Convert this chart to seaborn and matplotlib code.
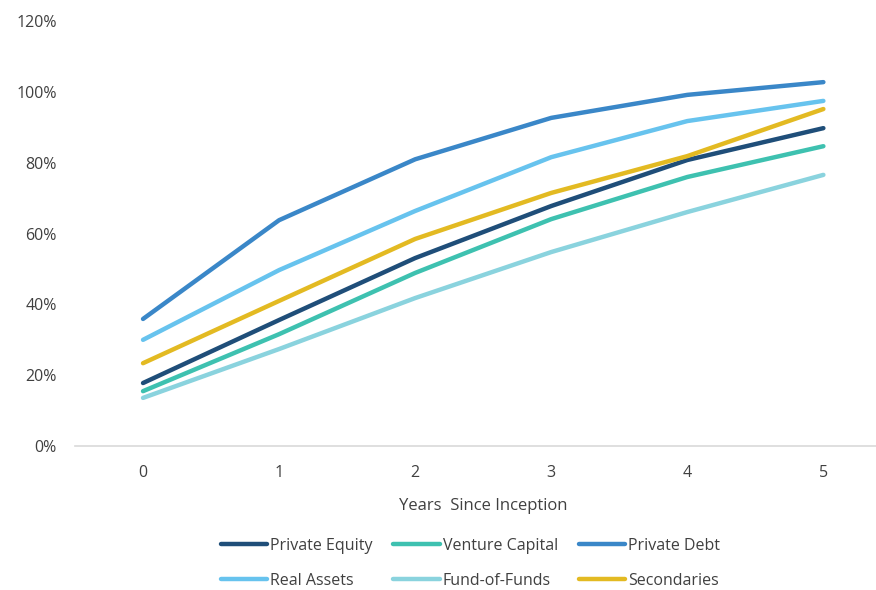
import pandas as pd
import seaborn as sns
import matplotlib.pyplot as plt
from matplotlib.ticker import PercentFormatter

# Data
years = [0, 1, 2, 3, 4, 5]
private_equity = [17.8, 35.6, 53.1, 67.8, 80.8, 89.8]
venture_capital = [15.5, 31.6, 48.9, 64.1, 76.0, 84.7]
private_debt = [35.9, 63.8, 81.0, 92.7, 99.2, 102.8]
real_assets = [30.0, 49.7, 66.4, 81.6, 91.8, 97.5]
fund_of_funds = [13.6, 27.4, 41.8, 54.8, 66.1, 76.6]
secondaries = [23.4, 41.0, 58.5, 71.5, 81.9, 95.2]

series = {
    'Private Equity': private_equity,
    'Venture Capital': venture_capital,
    'Private Debt': private_debt,
    'Real Assets': real_assets,
    'Fund-of-Funds': fund_of_funds,
    'Secondaries': secondaries,
}
palette = ['#1F4E79', '#3EC1B0', '#3A87C8', '#67C3EE', '#8AD3DE', '#E3BA22']

df = pd.DataFrame([
    {'year': y, 'value': v, 'strategy': name}
    for name, vals in series.items() for y, v in zip(years, vals)
])

sns.set_style('white')
plt.rcParams['font.family'] = ['Open Sans', 'DejaVu Sans']

fig = plt.figure(figsize=(8.76, 5.90), dpi=100)
ax = fig.add_axes([0.0856, 0.244, 0.932, 0.72])

sns.lineplot(data=df, x='year', y='value', hue='strategy', palette=palette,
             linewidth=3.2, ax=ax, legend=True)

ax.set_xlim(-0.5, 5.5)
ax.set_ylim(0, 120)
ax.set_yticks(range(0, 121, 20))
ax.set_xticks(years)
ax.yaxis.set_major_formatter(PercentFormatter(decimals=0))
ax.tick_params(axis='both', length=0, labelsize=11.5, colors='#404040')
ax.tick_params(axis='x', pad=14)
ax.tick_params(axis='y', pad=13)
for side in ['top', 'right', 'left']:
    ax.spines[side].set_visible(False)
ax.spines['bottom'].set_color('#D9D9D9')
ax.spines['bottom'].set_linewidth(1.2)
ax.set_ylabel('')
ax.set_xlabel('Years  Since Inception', fontsize=12, color='#404040', labelpad=12)

# legend fills column-first, so reorder to read row by row
handles, labels = ax.get_legend_handles_labels()
order = [0, 3, 1, 4, 2, 5]
ax.legend([handles[i] for i in order], [labels[i] for i in order],
          loc='center', bbox_to_anchor=(0.537, 0.045),
          bbox_transform=fig.transFigure, ncol=3, frameon=False, fontsize=11.5,
          handlelength=2.9, handletextpad=0.2, columnspacing=1.3, labelspacing=1.2,
          labelcolor='#404040')

fig.savefig('out.png', dpi=100)
